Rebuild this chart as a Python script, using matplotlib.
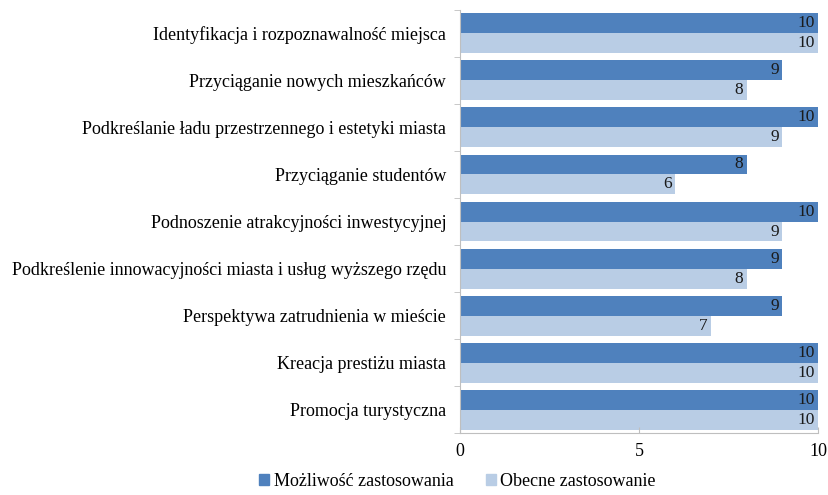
import numpy as np
import matplotlib.pyplot as plt
from matplotlib.patches import Patch

plt.rcParams['font.family'] = ['Liberation Serif', 'DejaVu Serif']

categories = [
    'Identyfikacja i rozpoznawalność miejsca',
    'Przyciąganie nowych mieszkańców',
    'Podkreślanie ładu przestrzennego i estetyki miasta',
    'Przyciąganie studentów',
    'Podnoszenie atrakcyjności inwestycyjnej',
    'Podkreślenie innowacyjności miasta i usług wyższego rzędu',
    'Perspektywa zatrudnienia w mieście',
    'Kreacja prestiżu miasta',
    'Promocja turystyczna',
]
mozliwosc = [10, 9, 10, 8, 10, 9, 9, 10, 10]
obecne = [10, 8, 9, 6, 9, 8, 7, 10, 10]
series_names = ['Możliwość zastosowania', 'Obecne zastosowanie']

dark = '#4F81BD'
light = '#B9CDE5'

fig = plt.figure(figsize=(8.29, 4.95), dpi=100)
ax = fig.add_axes([0.555, 0.125, 0.432, 0.855])

y = np.arange(len(categories))
h = 0.425
b1 = ax.barh(y - h / 2, mozliwosc, height=h, color=dark)
b2 = ax.barh(y + h / 2, obecne, height=h, color=light)

for bars, vals in ((b1, mozliwosc), (b2, obecne)):
    for bar, v in zip(bars, vals):
        ax.text(v - 0.09, bar.get_y() + bar.get_height() / 2, str(v),
                ha='right', va='center', fontsize=12.5, color='#1a1a1a')

ax.set_xlim(0, 10)
ax.set_ylim(len(categories) - 0.5, -0.5)
ax.set_xticks([0, 5, 10])
ax.set_xticklabels(['0', '5', '10'], fontsize=13)
ax.tick_params(axis='x', direction='in', length=4, color='#bfbfbf', pad=7)

# category labels centred on groups, tick marks between groups
ax.set_yticks(y)
ax.set_yticklabels(categories, fontsize=13)
ax.tick_params(axis='y', length=0, pad=10)
ax.set_yticks(np.arange(len(categories) + 1) - 0.5, minor=True)
ax.tick_params(axis='y', which='minor', length=4, color='#bfbfbf')

for s in ('top', 'right'):
    ax.spines[s].set_visible(False)
for s in ('left', 'bottom'):
    ax.spines[s].set_color('#bfbfbf')

handles = [Patch(color=dark), Patch(color=light)]
fig.legend(handles, series_names, loc='center', bbox_to_anchor=(0.552, 0.027),
           ncol=2, frameon=False, fontsize=13, handlelength=0.55,
           handleheight=0.55, handletextpad=0.25, columnspacing=1.8)

fig.savefig('out.png', dpi=100)
